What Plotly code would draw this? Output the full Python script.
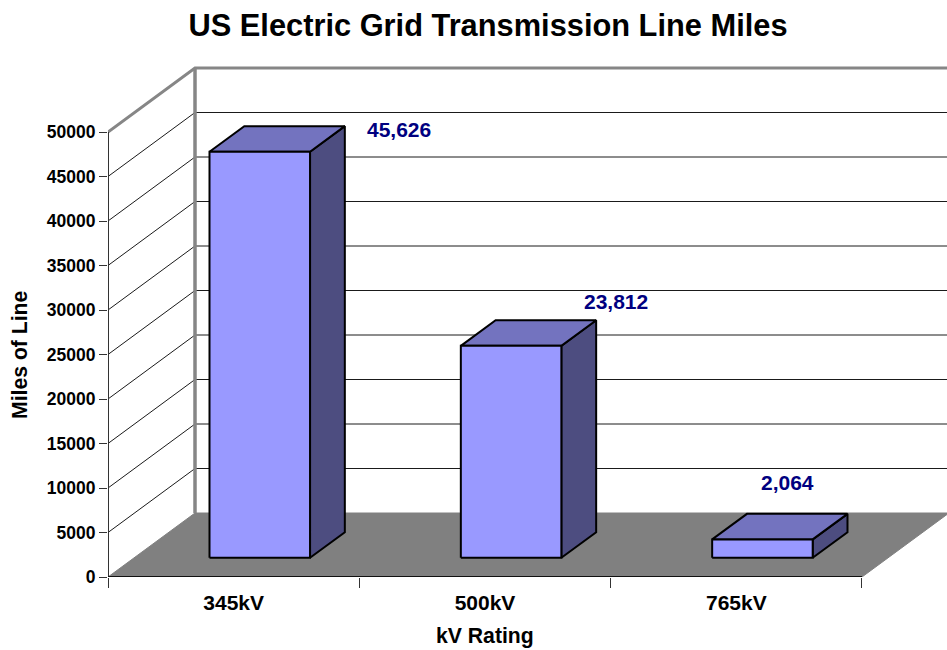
import plotly.graph_objects as go

categories = ["345kV", "500kV", "765kV"]
miles = [45626, 23812, 2064]
labels = ["45,626", "23,812", "2,064"]
y_ticks = [0, 5000, 10000, 15000, 20000, 25000, 30000, 35000, 40000, 45000, 50000]

# layout geometry (px)
W, H = 947, 650
L, B = 108, 73
CAT_PX = 251.33
V_PX = 445 / 50000
DX = 87 / CAT_PX
DY = 64 / V_PX
FONT = "Liberation Sans, Arial, sans-serif"
GREY = "#868686"

fig = go.Figure()

def poly(xs, ys, fill=None, color="#000", width=1):
    fig.add_trace(go.Scatter(
        x=xs, y=ys, mode="lines", fill="toself" if fill else None, fillcolor=fill,
        line=dict(color=color, width=width), hoverinfo="skip", showlegend=False,
        cliponaxis=False))

n = len(categories)
# floor
poly([0, n, n + DX, DX, 0], [0, 0, DY, DY, 0], fill="#808080", color="#808080", width=1)
# walls grid
for v in y_ticks[1:-1]:
    poly([0, DX, n + DX], [v, v + DY, v + DY], color="#1a1a1a", width=1)
top = y_ticks[-1]
poly([0, DX, n + DX], [top, top + DY, top + DY], color=GREY, width=3)
poly([DX, DX], [DY, top + DY], color=GREY, width=3.5)
# axes
poly([0, 0], [0, top], color="#333333", width=2)
poly([0, n], [0, 0], color="#111111", width=2)

# bars
for i, val in enumerate(miles):
    x0 = i + 0.3 + 0.3 * DX
    x1 = i + 0.7 + 0.3 * DX
    b = 0.3 * DY
    t = val + b
    ox, oy = 0.4 * DX, 0.4 * DY
    poly([x1, x1 + ox, x1 + ox, x1, x1], [b, b + oy, t + oy, t, b], fill="#4D4D80", width=2)
    poly([x0, x1, x1 + ox, x0 + ox, x0], [t, t, t + oy, t + oy, t], fill="#7373BF", width=2)
    poly([x0, x1, x1, x0, x0], [b, b, t, t, b], fill="#9999FF", width=2)

label_shift = [(54, 3), (20, -19), (-60, -31)]
annotations = []
for i, val in enumerate(miles):
    x1 = i + 0.7 + 0.3 * DX + 0.4 * DX
    annotations.append(dict(
        x=x1, y=val + 0.7 * DY, xref="x", yref="y", text=f"<b>{labels[i]}</b>", showarrow=False,
        xshift=label_shift[i][0], yshift=-label_shift[i][1],
        font=dict(family=FONT, size=21, color="#000080")))

def px_x(p):
    return (p - L) / (W - L)

def px_y(p):
    return 1 - p / (H - B)

annotations.append(dict(text="<b>kV Rating</b>", x=px_x(485), y=px_y(636), xref="paper", yref="paper",
                        xanchor="center", yanchor="middle", showarrow=False,
                        font=dict(family=FONT, size=21.2, color="#000")))
annotations.append(dict(text="<b>Miles of Line</b>", x=px_x(19), y=px_y(355), xref="paper", yref="paper",
                        xanchor="center", yanchor="middle", showarrow=False, textangle=-90,
                        font=dict(family=FONT, size=21.2, color="#000")))

fig.update_layout(
    width=W, height=H, autosize=False,
    margin=dict(l=L, r=0, t=0, b=B, pad=0),
    paper_bgcolor="white", plot_bgcolor="white",
    title=dict(text="<b>US Electric Grid Transmission Line Miles</b>", x=488 / W, xanchor="center",
               y=1 - 25 / H, yanchor="middle", font=dict(family=FONT, size=30.8, color="#000")),
    xaxis=dict(range=[0, (W - L) / CAT_PX], tickmode="array", tickvals=[i + 0.5 for i in range(n)],
               ticktext=[f"<b>{c}</b>" for c in categories], ticks="outside", ticklen=10,
               tickcolor="rgba(0,0,0,0)", showgrid=False, zeroline=False, showline=False,
               ticklabelstandoff=-3,
               tickfont=dict(family=FONT, size=21, color="#000"),
               minor=dict(tickmode="array", tickvals=list(range(n + 1)), ticks="outside", ticklen=10,
                          tickcolor="#333", tickwidth=1, showgrid=False)),
    yaxis=dict(range=[0, (H - B) / V_PX], tickmode="array", tickvals=y_ticks,
               ticktext=[f"<b>{v}</b>" for v in y_ticks], ticks="outside", ticklen=8, tickcolor="#333",
               tickwidth=1, showgrid=False, zeroline=False, showline=False,
               tickfont=dict(family=FONT, size=17.5, color="#000")),
    annotations=annotations,
)
fig.write_html("out.html", config=dict(displayModeBar=False),
               post_script="document.body.style.margin='0';document.body.style.overflow='hidden';")
